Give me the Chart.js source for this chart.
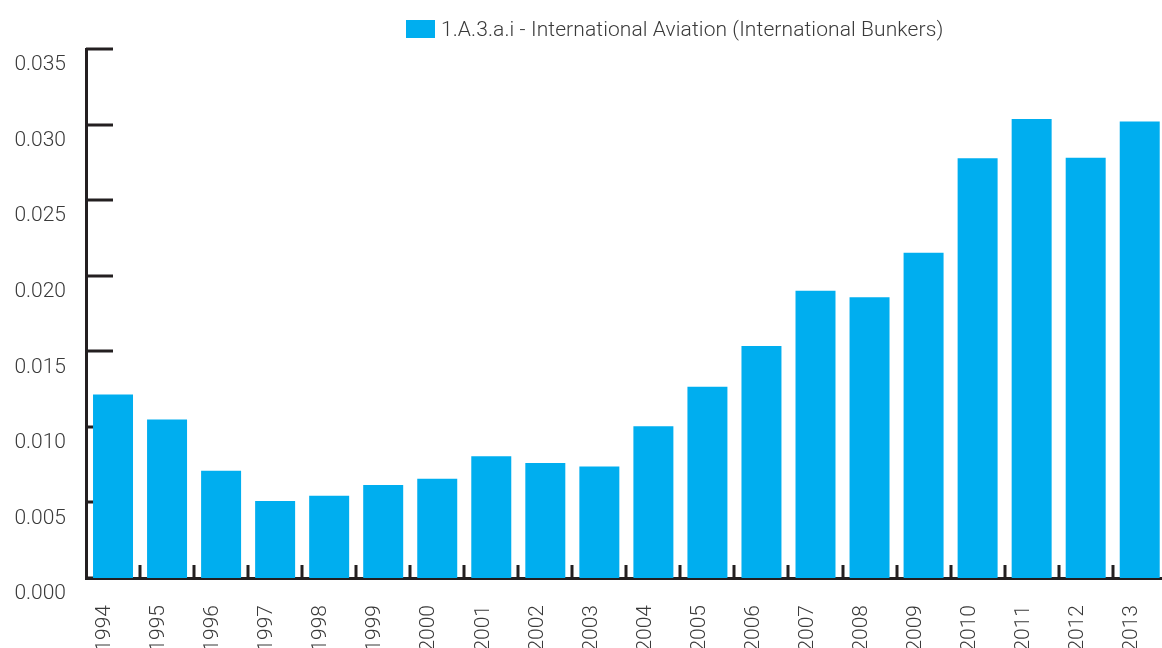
<!DOCTYPE html>
<html>
<head>
<meta charset="utf-8">
<script src="https://cdn.jsdelivr.net/npm/chart.js@4"></script>
<style>
  html, body { margin: 0; padding: 0; background: #fff; overflow: hidden; }
  .wrap { position: relative; width: 1184px; height: 648px; }
  .legend { position: absolute; left: 406px; top: 17px; display: flex; align-items: center; letter-spacing: 0.1px;
    font-family: Roboto, 'Liberation Sans', sans-serif; font-weight: 300; font-size: 21px; color: #3a3a3a; }
  .legend__box { width: 29px; height: 18px; margin-right: 6px; }
  #dbg { position: absolute; left: 300px; top: 200px; font: 14px sans-serif; color: red; }
</style>
</head>
<body>
<div class="wrap">
  <div class="legend" id="legend"></div>
  <canvas id="chart" width="1184" height="648"></canvas>
</div>
<script>
// Años e inventario de emisiones (lectura del gráfico original)
const years = ['1994', '1995', '1996', '1997', '1998', '1999', '2000', '2001', '2002', '2003',
  '2004', '2005', '2006', '2007', '2008', '2009', '2010', '2011', '2012', '2013'];
const aviation = [0.01214, 0.01048, 0.0071, 0.00509, 0.00544, 0.00615, 0.00657, 0.00805, 0.00761, 0.00737,
  0.01004, 0.01265, 0.01535, 0.019, 0.01858, 0.02152, 0.02778, 0.03037, 0.0278, 0.03021];
const seriesLabel = '1.A.3.a.i - International Aviation (International Bunkers)';
const yTicks = [0, 0.005, 0.01, 0.015, 0.02, 0.025, 0.03, 0.035];

const barColor = '#00aeef';
const ink = '#231f20';
const font = { family: "Roboto, 'Liberation Sans', sans-serif", size: 21, weight: 300 };

// marcas de eje hacia dentro (y detrás de las barras, x entre categorías)
const axisMarks = {
  id: 'axisMarks',
  beforeDatasetsDraw(chart) {
    const { ctx, chartArea, scales: { y } } = chart;
    ctx.save();
    ctx.strokeStyle = ink; ctx.lineWidth = 3;
    yTicks.forEach((v) => {
      const py = Math.round(y.getPixelForValue(v));
      ctx.beginPath(); ctx.moveTo(chartArea.left, py); ctx.lineTo(chartArea.left + 27, py); ctx.stroke();
    });
    ctx.restore();
  },
  afterDatasetsDraw(chart) {
    const { ctx, chartArea, scales: { x } } = chart;
    const half = (x.getPixelForValue(1) - x.getPixelForValue(0)) / 2;
    ctx.save();
    ctx.strokeStyle = ink; ctx.lineWidth = 3;
    for (let i = 1; i < years.length; i++) {
      const px = Math.round(x.getPixelForValue(i) - half);
      ctx.beginPath(); ctx.moveTo(px, chartArea.bottom); ctx.lineTo(px, chartArea.bottom - 13); ctx.stroke();
    }
    ctx.restore();
  },
};

new Chart(document.getElementById('chart'), {
  type: 'bar',
  data: {
    labels: years,
    datasets: [{ label: seriesLabel, data: aviation, backgroundColor: barColor, barPercentage: 0.74, categoryPercentage: 1 }],
  },
  options: {
    responsive: false, animation: false,
    layout: { autoPadding: false, padding: { top: 49, right: 3, left: 0, bottom: 0 } },
    plugins: { legend: { display: false }, tooltip: { enabled: false } },
    scales: {
      x: {
        grid: { display: false },
        border: { display: true, color: ink, width: 3 },
        ticks: { color: '#3a3a3a', font, minRotation: 90, maxRotation: 90, padding: 19, labelOffset: -8, autoSkip: false },
        afterFit: (s) => { s.height = 70; },
      },
      y: {
        min: 0, max: 0.035,
        afterBuildTicks: (s) => { s.ticks = yTicks.map((v) => ({ value: v })); },
        grid: { display: false },
        border: { display: true, color: ink, width: 3 },
        ticks: { color: '#3a3a3a', font, padding: 12, labelOffset: 16, callback: (v) => Number(v).toFixed(3) },
        afterFit: (s) => { s.width = 86; },
      },
    },
  },
  plugins: [axisMarks],
});

document.getElementById('legend').innerHTML =
  `<span class="legend__box" style="background:${barColor}"></span><span>${seriesLabel}</span>`;
</script>
</body>
</html>
